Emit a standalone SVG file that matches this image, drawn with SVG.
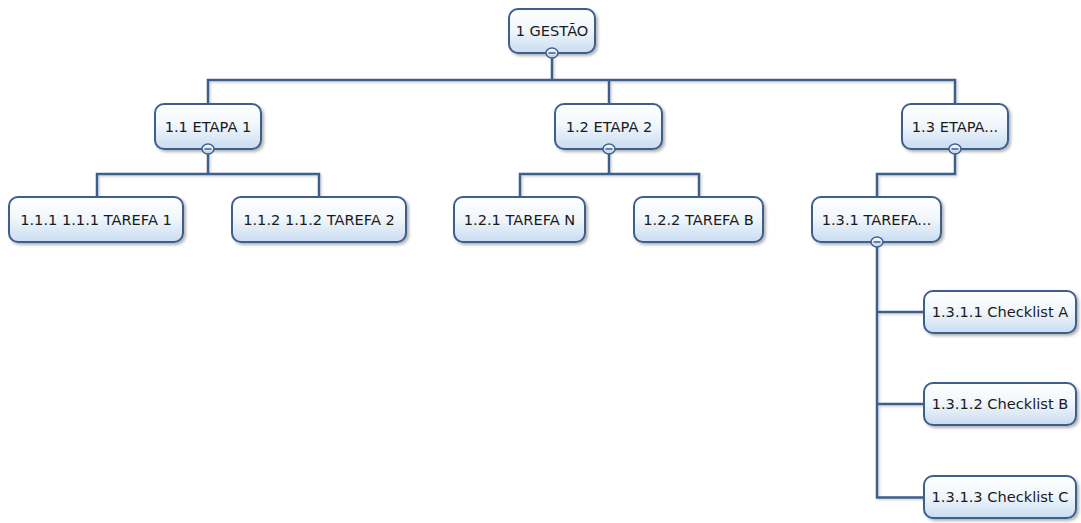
<svg xmlns="http://www.w3.org/2000/svg" width="1081" height="523" viewBox="0 0 1081 523">
<defs>
<linearGradient id="g" x1="0" y1="0" x2="0" y2="1">
<stop offset="0" stop-color="#ffffff"/>
<stop offset="0.45" stop-color="#f2f7fc"/>
<stop offset="1" stop-color="#c9dcf1"/>
</linearGradient>
<linearGradient id="gc" x1="0" y1="0" x2="0" y2="1">
<stop offset="0" stop-color="#ffffff"/>
<stop offset="1" stop-color="#b9cfe8"/>
</linearGradient>
<filter id="sh" x="-10%" y="-10%" width="130%" height="140%">
<feDropShadow dx="2" dy="2" stdDeviation="1.5" flood-color="#000" flood-opacity="0.3"/>
</filter>
<filter id="lsh" x="-5%" y="-5%" width="110%" height="110%">
<feDropShadow dx="1.5" dy="1.5" stdDeviation="0.8" flood-color="#000" flood-opacity="0.18"/>
</filter>
</defs>
<style>
.box{fill:url(#g);stroke:#3c5f8d;stroke-width:2;filter:url(#sh)}
.lbl{font-family:"DejaVu Sans",Verdana,sans-serif;font-size:14.6px;fill:#1a1a1a;text-anchor:middle}
.con{fill:none;stroke:#3c5f8d;stroke-width:2.5;stroke-linejoin:miter}
.tog ellipse{fill:url(#gc);stroke:#3c5f8d;stroke-width:1.5}
.tog line{stroke:#3c5f8d;stroke-width:1.5}
</style>
<g id="connectors" filter="url(#lsh)">
<path class="con" d="M552 53V80M208 104V80H955V104M609 80V104"/>
<path class="con" d="M208 149V174M97 197V174H319V197"/>
<path class="con" d="M609 149V174M520 197V174H699V197"/>
<path class="con" d="M955 149V174H877V197"/>
<path class="con" d="M877 242V497.5H924M877 312H924M877 404H924"/>
</g>
<g id="n1"><rect class="box" x="509" y="9" width="86" height="44" rx="9"/><text class="lbl" x="552" y="36">1 GESTÃO</text></g>
<g id="n11"><rect class="box" x="155" y="104" width="106" height="45" rx="9"/><text class="lbl" x="208" y="132">1.1 ETAPA 1</text></g>
<g id="n12"><rect class="box" x="555" y="104" width="107" height="45" rx="9"/><text class="lbl" x="609" y="132">1.2 ETAPA 2</text></g>
<g id="n13"><rect class="box" x="902" y="104" width="106" height="45" rx="9"/><text class="lbl" x="955" y="132">1.3 ETAPA...</text></g>
<g id="n111"><rect class="box" x="9" y="197" width="174" height="45" rx="9"/><text class="lbl" x="96" y="225">1.1.1 1.1.1 TAREFA 1</text></g>
<g id="n112"><rect class="box" x="232" y="197" width="174" height="45" rx="9"/><text class="lbl" x="319" y="225">1.1.2 1.1.2 TAREFA 2</text></g>
<g id="n121"><rect class="box" x="454" y="197" width="131" height="45" rx="9"/><text class="lbl" x="519.5" y="225">1.2.1 TAREFA N</text></g>
<g id="n122"><rect class="box" x="634" y="197" width="129" height="45" rx="9"/><text class="lbl" x="698.5" y="225">1.2.2 TAREFA B</text></g>
<g id="n131"><rect class="box" x="812" y="197" width="129" height="45" rx="9"/><text class="lbl" x="876.5" y="225">1.3.1 TAREFA...</text></g>
<g id="n1311"><rect class="box" x="924" y="291" width="152" height="42" rx="9"/><text class="lbl" x="1000" y="317">1.3.1.1 Checklist A</text></g>
<g id="n1312"><rect class="box" x="924" y="383" width="152" height="42" rx="9"/><text class="lbl" x="1000" y="409">1.3.1.2 Checklist B</text></g>
<g id="n1313"><rect class="box" x="924" y="476" width="152" height="42" rx="9"/><text class="lbl" x="1000" y="502">1.3.1.3 Checklist C</text></g>
<g id="toggles">
<g class="tog"><ellipse cx="552" cy="53" rx="6" ry="5"/><line x1="548.5" y1="53" x2="555.5" y2="53"/></g>
<g class="tog"><ellipse cx="208" cy="149" rx="6" ry="5"/><line x1="204.5" y1="149" x2="211.5" y2="149"/></g>
<g class="tog"><ellipse cx="609" cy="149" rx="6" ry="5"/><line x1="605.5" y1="149" x2="612.5" y2="149"/></g>
<g class="tog"><ellipse cx="955" cy="149" rx="6" ry="5"/><line x1="951.5" y1="149" x2="958.5" y2="149"/></g>
<g class="tog"><ellipse cx="877" cy="242" rx="6" ry="5"/><line x1="873.5" y1="242" x2="880.5" y2="242"/></g>
</g>
</svg>
